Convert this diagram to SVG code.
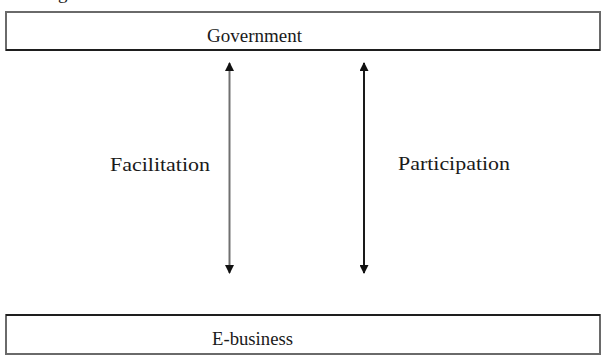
<svg xmlns="http://www.w3.org/2000/svg" width="601" height="356" viewBox="0 0 601 356">
  <style>
    .box { fill: #ffffff; stroke: #6a6a6a; stroke-width: 2; }
    .edge { stroke: #1e1e1e; stroke-width: 2; }
    .lbl { font-family: 'Liberation Serif', 'DejaVu Serif', serif; font-size: 19px; fill: #1a1a1a; }
    .shaft { stroke-width: 2; fill: none; }
  </style>
  <defs>
    <marker id="head" viewBox="0 0 10 10" refX="9" refY="5" markerWidth="10" markerHeight="9" markerUnits="userSpaceOnUse" orient="auto-start-reverse">
      <path d="M0,0 L10,5 L0,10 Z" fill="#111111"/>
    </marker>
  </defs>
  <rect width="601" height="356" fill="#ffffff"/>

  <!-- caption descender above the frame -->
  <text class="lbl" font-family="Liberation Serif" x="58" y="-1">g</text>

  <g id="government">
    <rect class="box" x="6" y="12" width="594" height="38"/>
    <line class="edge" x1="6" y1="50" x2="600" y2="50"/>
    <text class="lbl" font-family="Liberation Serif" x="207" y="41.5" textLength="95" lengthAdjust="spacingAndGlyphs">Government</text>
  </g>

  <g id="ebusiness">
    <rect class="box" x="6" y="315" width="594" height="39"/>
    <line class="edge" x1="6" y1="315" x2="600" y2="315"/>
    <text class="lbl" font-family="Liberation Serif" x="212" y="345" textLength="81" lengthAdjust="spacingAndGlyphs">E-business</text>
  </g>

  <g id="connectors">
    <line class="shaft" x1="229.5" y1="63" x2="229.5" y2="273" stroke="#707070" marker-start="url(#head)" marker-end="url(#head)"/>
    <line class="shaft" x1="364" y1="63" x2="364" y2="273" stroke="#1a1a1a" marker-start="url(#head)" marker-end="url(#head)"/>
    <text class="lbl" font-family="Liberation Serif" x="110" y="170.5" textLength="100" lengthAdjust="spacingAndGlyphs">Facilitation</text>
    <text class="lbl" font-family="Liberation Serif" x="398" y="170" textLength="112" lengthAdjust="spacingAndGlyphs">Participation</text>
  </g>
</svg>
